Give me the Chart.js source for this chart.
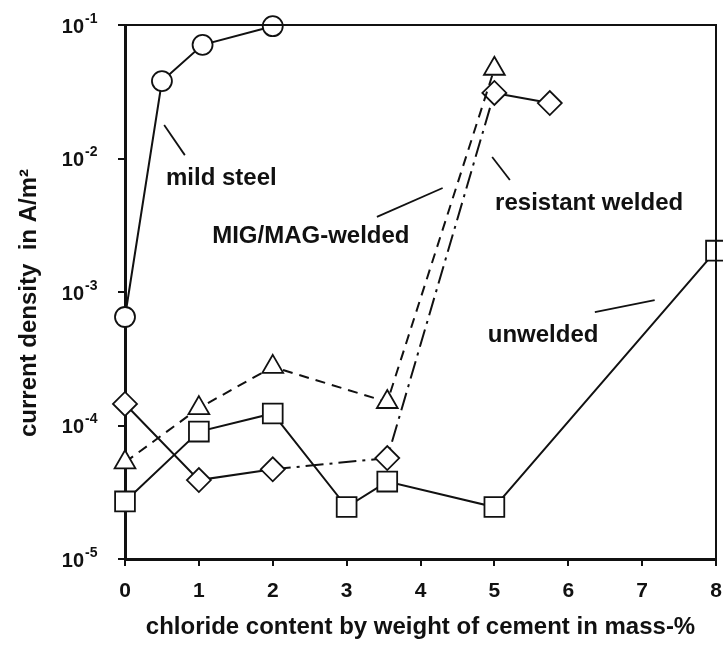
<!DOCTYPE html>
<html>
<head>
<meta charset="utf-8">
<title>Current density vs chloride content</title>
<script src="https://cdn.jsdelivr.net/npm/chart.js"></script>
<style>
  html, body { margin: 0; padding: 0; background: #fff; }
  #wrap { width: 723px; height: 650px; }
</style>
</head>
<body>
<div id="wrap"><canvas id="corrChart" width="723" height="650"></canvas></div>
<script>
// chloride content (mass-% of cement) and current density (A/m2) per steel type
const mildX = [0, 0.5, 1.05, 2];
const mildY = [6.5e-4, 0.038, 0.071, 0.098];

const migX = [0, 1, 2, 3.55, 5];
const migY = [5.3e-5, 1.35e-4, 2.75e-4, 1.5e-4, 0.047];

const resX = [0, 1, 2, 3.55, 5, 5.75];
const resY = [1.45e-4, 3.9e-5, 4.7e-5, 5.7e-5, 0.031, 0.026];

const unwX = [0, 1, 2, 3, 3.55, 5, 8];
const unwY = [2.7e-5, 9e-5, 1.23e-4, 2.45e-5, 3.8e-5, 2.45e-5, 2.04e-3];

const xTicks = [0, 1, 2, 3, 4, 5, 6, 7, 8];
const yTicks = [1e-5, 1e-4, 1e-3, 1e-2, 1e-1];

// curve labels and their leader lines, in data units
const labelText = ['mild steel', 'MIG/MAG-welded', 'resistant welded', 'unwelded'];
const labelX = [0.555, 1.18, 5.01, 4.91];
const labelY = [0.00714, 0.00262, 0.00465, 4.77e-4];
const leaderFrom = [[0.53, 0.0178], [3.41, 0.00365], [4.97, 0.01026], [6.36, 7.08e-4]];
const leaderTo = [[0.81, 0.0106], [4.30, 0.00601], [5.21, 0.0069], [7.17, 8.7e-4]];

const ink = '#111';
const fontFamily = '"Liberation Sans", Arial, Helvetica, sans-serif';

function toPoints(xs, ys) {
    return xs.map((x, i) => ({ x: x, y: ys[i] }));
}

function series(xs, ys, style, radius, extra) {
    return Object.assign({
        data: toPoints(xs, ys),
        borderColor: ink,
        borderWidth: 2,
        pointStyle: style,
        pointRadius: radius,
        pointBorderWidth: 1.8,
        pointBorderColor: ink,
        pointBackgroundColor: '#fff',
        tension: 0,
        clip: false
    }, extra || {});
}

// frame, y tick labels with exponents, y title, curve labels
const decorations = {
    id: 'decorations',
    afterDatasetsDraw(chart) {
        const { ctx, chartArea: area, scales: { x, y } } = chart;
        ctx.save();

        // top and right edges of the box
        ctx.strokeStyle = ink;
        ctx.lineWidth = 2;
        ctx.beginPath();
        ctx.moveTo(area.left, area.top);
        ctx.lineTo(area.right, area.top);
        ctx.lineTo(area.right, area.bottom);
        ctx.stroke();

        // leader lines
        ctx.lineWidth = 1.8;
        leaderFrom.forEach((p, i) => {
            const q = leaderTo[i];
            ctx.beginPath();
            ctx.moveTo(x.getPixelForValue(p[0]), y.getPixelForValue(p[1]));
            ctx.lineTo(x.getPixelForValue(q[0]), y.getPixelForValue(q[1]));
            ctx.stroke();
        });

        // curve names
        ctx.fillStyle = ink;
        ctx.font = 'bold 24px ' + fontFamily;
        ctx.textAlign = 'left';
        ctx.textBaseline = 'middle';
        labelText.forEach((t, i) => {
            ctx.fillText(t, x.getPixelForValue(labelX[i]), y.getPixelForValue(labelY[i]));
        });

        // 10^n tick labels
        const baseRight = 84;
        yTicks.forEach(v => {
            const py = y.getPixelForValue(v);
            const exp = String(Math.round(Math.log10(v)));
            ctx.font = 'bold 20px ' + fontFamily;
            ctx.textAlign = 'right';
            ctx.textBaseline = 'middle';
            ctx.fillText('10', baseRight, py + 2);
            ctx.font = 'bold 14px ' + fontFamily;
            ctx.textAlign = 'left';
            ctx.fillText(exp, baseRight + 1, py - 6);
        });

        // y axis title
        ctx.translate(29, (area.top + area.bottom) / 2 + 11);
        ctx.rotate(-Math.PI / 2);
        ctx.font = 'bold 24px ' + fontFamily;
        ctx.textAlign = 'center';
        ctx.textBaseline = 'middle';
        ctx.fillText('current density  in A/m\u00B2', 0, 0);

        ctx.restore();
    }
};

new Chart(document.getElementById('corrChart'), {
    type: 'line',
    data: {
        datasets: [
            series(mildX, mildY, 'circle', 10),
            series(migX, migY, 'triangle', 12, { borderDash: [10, 7] }),
            series(resX, resY, 'rectRot', 12, {
                segment: {
                    borderDash: c => (c.p0DataIndex === 2 || c.p0DataIndex === 3) ? [18, 6, 3, 6] : []
                }
            }),
            series(unwX, unwY, 'rect', 14)
        ]
    },
    options: {
        responsive: false,
        animation: false,
        layout: {
            autoPadding: false,
            padding: { top: 25, right: 7, left: 0, bottom: 0 }
        },
        plugins: {
            legend: { display: false },
            tooltip: { enabled: false }
        },
        scales: {
            x: {
                type: 'linear',
                min: 0,
                max: 8,
                afterBuildTicks: s => { s.ticks = xTicks.map(v => ({ value: v })); },
                afterFit: s => {
                    s.height = 91;
                    s.paddingLeft = 0;
                    s.paddingRight = 0;
                },
                grid: {
                    drawOnChartArea: false,
                    drawTicks: true,
                    tickLength: 7,
                    color: ink,
                    lineWidth: 2
                },
                border: { display: true, color: ink, width: 3 },
                ticks: {
                    color: ink,
                    padding: 13,
                    maxRotation: 0,
                    font: { family: fontFamily, size: 21, weight: 'bold' }
                },
                title: {
                    display: true,
                    text: 'chloride content by weight of cement in mass-%',
                    color: ink,
                    padding: { top: 0, bottom: 8 },
                    font: { family: fontFamily, size: 24, weight: 'bold' }
                }
            },
            y: {
                type: 'logarithmic',
                min: 1e-5,
                max: 1e-1,
                afterBuildTicks: s => { s.ticks = yTicks.map(v => ({ value: v })); },
                afterFit: s => {
                    s.width = 125;
                    s.paddingTop = 0;
                    s.paddingBottom = 0;
                },
                grid: {
                    drawOnChartArea: false,
                    drawTicks: true,
                    tickLength: 7,
                    color: ink,
                    lineWidth: 2
                },
                border: { display: true, color: ink, width: 3 },
                ticks: { display: false }
            }
        }
    },
    plugins: [decorations]
});
</script>
</body>
</html>
